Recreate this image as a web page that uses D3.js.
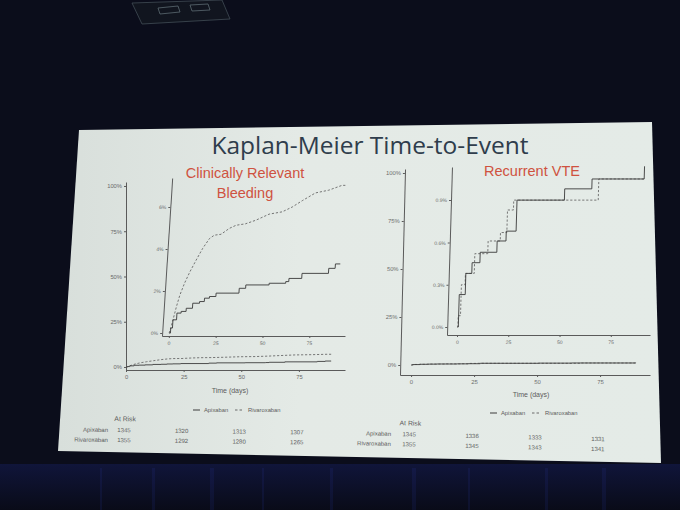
<!DOCTYPE html>
<html>
<head>
<meta charset="utf-8">
<script src="https://cdn.jsdelivr.net/npm/d3@7"></script>
<style>
  body { margin: 0; background: #0c0e1c; }
  svg { display: block; }
  .ax text { font-family: "Liberation Sans", Arial, sans-serif; fill: #6a6a6a; }
  .ax path, .ax line { stroke: #5a5a5a; }
</style>
</head>
<body>
<div id="chart"></div>
<script>
// Kaplan-Meier slide: two panels, each with a full-scale plot and a zoomed inset

// cumulative incidence, [day, fraction]
var crbApixaban = [[0,0],[0.7,0.0024],[1.6,0.0063],[3.5,0.0095],[5.7,0.0103],[8.3,0.0118],[11.6,0.0142],
  [15.2,0.015],[17.7,0.0166],[20.3,0.0174],[23.7,0.019],[35.9,0.0213],[39.3,0.0229],[51.7,0.0237],
  [60.5,0.0245],[62.1,0.026],[68.9,0.0284],[83,0.0308],[86.4,0.0329],[89,0.0329]];
var crbRivaroxaban = [[0,0],[0.7,0.0024],[1.6,0.0063],[3,0.0126],[4.4,0.018],[6.5,0.0237],[8.9,0.029],
  [11.9,0.0347],[15,0.0403],[18.3,0.045],[20.8,0.0466],[24.3,0.047],[28.5,0.0498],[32,0.0513],
  [37,0.052],[42.4,0.0537],[49.3,0.0566],[56.2,0.0577],[61.4,0.06],[66.5,0.063],[73.3,0.0667],
  [80.3,0.068],[87.2,0.0703],[89,0.0703]];
var vteApixaban = [[0,0],[0.5,0.0023],[3.4,0.0038],[6.3,0.00456],[10.1,0.0053],[18.2,0.0061],
  [22.5,0.0068],[27.3,0.009],[50.4,0.0098],[63.6,0.0105],[89,0.0114]];
var vteRivaroxaban = [[0,0],[0.3,0.0008],[1.4,0.003],[3.2,0.0038],[7.5,0.0052],[13.8,0.0061],
  [19.7,0.0067],[22.8,0.0083],[25.7,0.009],[66.9,0.0105],[89,0.0105]];

var riskDays = [0, 25, 50, 75];
var crbRiskApix = [1345, 1320, 1313, 1307];
var crbRiskRiva = [1355, 1292, 1280, 1265];
var vteRiskApix = [1345, 1336, 1333, 1331];
var vteRiskRiva = [1355, 1345, 1343, 1341];

var dayTicks = [0, 25, 50, 75];
var mainTicks = [0, 0.25, 0.5, 0.75, 1];
var crbInsetTicks = [0, 0.02, 0.04, 0.06];
var vteInsetTicks = [0, 0.003, 0.006, 0.009];

var W = 680, H = 510;
var font = "'Liberation Sans', Arial, sans-serif";

var svg = d3.select("#chart").append("svg")
  .attr("width", W).attr("height", H);

var defs = svg.append("defs");
var g1 = defs.append("linearGradient").attr("id", "slideFill")
  .attr("x1", "0").attr("x2", "1").attr("y1", "0").attr("y2", "0");
g1.append("stop").attr("offset", "0").attr("stop-color", "#d8dfdb");
g1.append("stop").attr("offset", "0.4").attr("stop-color", "#e4eae6");
g1.append("stop").attr("offset", "1").attr("stop-color", "#e4ebe7");
var g2 = defs.append("linearGradient").attr("id", "stage")
  .attr("x1", "0").attr("x2", "0").attr("y1", "0").attr("y2", "1");
g2.append("stop").attr("offset", "0").attr("stop-color", "#10153a");
g2.append("stop").attr("offset", "1").attr("stop-color", "#090b18");

svg.append("rect").attr("width", W).attr("height", H).attr("fill", "#0b0d1b");

// stage curtain below the screen
svg.append("rect").attr("x", 0).attr("y", 464).attr("width", W).attr("height", 46)
  .attr("fill", "url(#stage)");
[100, 152, 210, 262, 330, 412, 468, 545, 602].forEach(function(x, i) {
  svg.append("rect").attr("x", x).attr("y", 468).attr("width", 2 + (i % 3)).attr("height", 42)
    .attr("fill", "#2c3cb0").attr("opacity", 0.13);
});

// projector at the top
svg.append("path").attr("d", "M132,3 L222,0 L230,19 L142,24 Z")
  .attr("fill", "#11151f").attr("stroke", "#414c55").attr("stroke-width", 0.8);
svg.append("path").attr("d", "M158,8 L178,6 L180,12 L160,14 Z M190,5 L208,4 L210,10 L192,11 Z")
  .attr("fill", "none").attr("stroke", "#66757c").attr("stroke-width", 0.7);

// the projected slide
svg.append("path").attr("d", "M79,130 L652,122 L661,463 L58,451 Z")
  .attr("fill", "url(#slideFill)");

svg.append("text").attr("x", 370).attr("y", 154).attr("text-anchor", "middle")
  .attr("font-family", "'Open Sans', sans-serif").attr("font-size", 24.5)
  .attr("fill", "#2f3d4c").text("Kaplan-Meier Time-to-Event");

var red = "#cf5240";
function redTitle(lines, x, y) {
  lines.forEach(function(t, i) {
    svg.append("text").attr("x", x).attr("y", y + i * 20).attr("text-anchor", "middle")
      .attr("font-family", font).attr("font-size", 14.5)
      .attr("fill", red).text(t);
  });
}

function curve(g, x, y, data, dashed, shape) {
  var line = d3.line().curve(shape || d3.curveStepAfter)
    .x(function(d) { return x(d[0]); })
    .y(function(d) { return y(d[1]); });
  g.append("path").attr("d", line(data))
    .attr("fill", "none")
    .attr("stroke", dashed ? "#6a6a6a" : "#3c3c3c")
    .attr("stroke-width", dashed ? 0.9 : 0.9)
    .attr("stroke-dasharray", dashed ? "2.2,1.8" : null);
}

function axes(g, x, y, yTicks, yFmt, fs, bottom, left) {
  g.append("g").attr("class", "ax").attr("transform", "translate(0," + bottom + ")")
    .call(d3.axisBottom(x).tickValues(dayTicks).tickSize(2).tickSizeOuter(0).tickPadding(3))
    .selectAll("text").attr("font-size", fs);
  g.append("g").attr("class", "ax").attr("transform", "translate(" + left + ",0)")
    .call(d3.axisLeft(y).tickValues(yTicks).tickFormat(d3.format(yFmt)).tickSize(2).tickSizeOuter(0).tickPadding(2))
    .selectAll("text").attr("font-size", fs);
}

function skewed(x0, y0, deg) {
  return svg.append("g").attr("transform",
    "translate(" + x0 + "," + y0 + ") skewX(" + deg + ") translate(" + (-x0) + "," + (-y0) + ")");
}

function legend(cx, y) {
  var g = svg.append("g").attr("font-family", font).attr("font-size", 5.8).attr("fill", "#5c5c5c");
  g.append("line").attr("x1", cx - 45).attr("x2", cx - 38).attr("y1", y).attr("y2", y)
    .attr("stroke", "#3c3c3c").attr("stroke-width", 1);
  g.append("text").attr("x", cx - 34).attr("y", y + 2).text("Apixaban");
  g.append("line").attr("x1", cx - 3).attr("x2", cx + 5).attr("y1", y).attr("y2", y)
    .attr("stroke", "#6a6a6a").attr("stroke-width", 1).attr("stroke-dasharray", "2.5,2");
  g.append("text").attr("x", cx + 10).attr("y", y + 2).text("Rivaroxaban");
}

function riskTable(x, labelX, y, rot, apix, riva) {
  var g = svg.append("g").attr("transform", "rotate(" + rot + "," + labelX + "," + y + ")")
    .attr("font-family", font).attr("font-size", 6).attr("fill", "#5c5c5c");
  g.append("text").attr("x", x(0) - 1).attr("y", y - 11).attr("text-anchor", "middle")
    .attr("font-size", 6.8).text("At Risk");
  g.append("text").attr("x", labelX).attr("y", y).attr("text-anchor", "end").text("Apixaban");
  g.append("text").attr("x", labelX).attr("y", y + 10).attr("text-anchor", "end").text("Rivaroxaban");
  riskDays.forEach(function(d, i) {
    g.append("text").attr("x", x(d) - 2).attr("y", y).attr("text-anchor", "middle").text(apix[i]);
    g.append("text").attr("x", x(d) - 2).attr("y", y + 10).attr("text-anchor", "middle").text(riva[i]);
  });
}

// ---- left panel: clinically relevant bleeding
var xL = d3.scaleLinear().domain([0, 95]).range([126, 345]);
var yL = d3.scaleLinear().domain([-0.0166, 1.022]).range([370, 182]);
var mainL = svg.append("g");
axes(mainL, xL, yL, mainTicks, ".0%", 5.8, 370, 126);
curve(mainL, xL, yL, crbRivaroxaban, true, d3.curveLinear);
curve(mainL, xL, yL, crbApixaban, false);
mainL.append("text").attr("x", 230).attr("y", 393).attr("text-anchor", "middle")
  .attr("font-family", font).attr("font-size", 7).attr("fill", "#5c5c5c").text("Time (days)");

var xLi = d3.scaleLinear().domain([-3.7, 94]).range([162, 345]);
var yLi = d3.scaleLinear().domain([-0.0014, 0.0738]).range([336, 178]);
var insetL = skewed(162, 336, -3.7);
axes(insetL, xLi, yLi, crbInsetTicks, ".0%", 5, 336, 162);
curve(insetL, xLi, yLi, crbRivaroxaban, true, d3.curveLinear);
curve(insetL, xLi, yLi, crbApixaban, false);

redTitle(["Clinically Relevant", "Bleeding"], 245, 178);
legend(238, 410);
riskTable(xL, 108, 432, 0.7, crbRiskApix, crbRiskRiva);

// ---- right panel: recurrent VTE
var xR = d3.scaleLinear().domain([-4.4, 94.8]).range([400, 650]);
var yR = d3.scaleLinear().domain([-0.052, 1.0208]).range([375, 169]);
var mainR = skewed(400, 375, -1.4);
axes(mainR, xR, yR, mainTicks, ".0%", 5.8, 375, 400);
curve(mainR, xR, yR, vteRivaroxaban, true);
curve(mainR, xR, yR, vteApixaban, false);
svg.append("text").attr("x", 531).attr("y", 397).attr("text-anchor", "middle")
  .attr("font-family", font).attr("font-size", 7).attr("fill", "#5c5c5c").text("Time (days)");

var xRi = d3.scaleLinear().domain([-4.9, 94.1]).range([447, 650]);
var yRi = d3.scaleLinear().domain([-0.00057, 0.01135]).range([335, 167]);
var insetR = skewed(447, 335, -1.7);
axes(insetR, xRi, yRi, vteInsetTicks, ".1%", 5, 335, 447);
curve(insetR, xRi, yRi, vteRivaroxaban, true);
curve(insetR, xRi, yRi, vteApixaban, false);

redTitle(["Recurrent VTE"], 532, 176);
legend(535, 413);
riskTable(xR, 391, 436, 1.4, vteRiskApix, vteRiskRiva);
</script>
</body>
</html>
